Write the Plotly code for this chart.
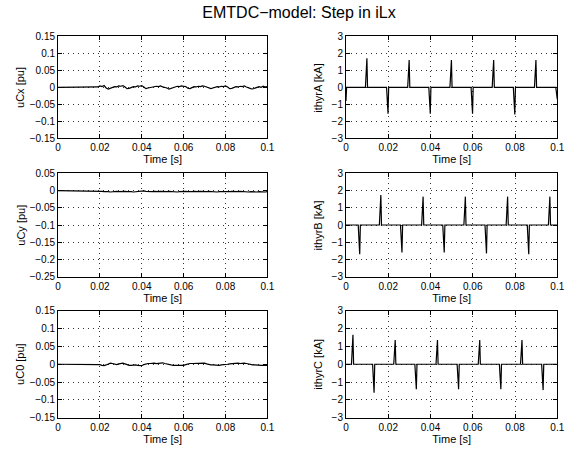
import plotly.graph_objects as go
from plotly.subplots import make_subplots

# ---------------- data ----------------
TIME_U = [0.000, 0.018, 0.019, 0.020, 0.021, 0.022, 0.023, 0.024, 0.025, 0.026, 0.027,
          0.028, 0.029, 0.030, 0.031, 0.032, 0.033, 0.034, 0.035, 0.036, 0.037, 0.038,
          0.039, 0.040, 0.041, 0.042, 0.043, 0.044, 0.045, 0.046, 0.047, 0.048, 0.049,
          0.050, 0.051, 0.052, 0.053, 0.054, 0.055, 0.056, 0.057, 0.058, 0.059, 0.060,
          0.061, 0.062, 0.063, 0.064, 0.065, 0.066, 0.067, 0.068, 0.069, 0.070, 0.071,
          0.072, 0.073, 0.074, 0.075, 0.076, 0.077, 0.078, 0.079, 0.080, 0.081, 0.082,
          0.083, 0.084, 0.085, 0.086, 0.087, 0.088, 0.089, 0.090, 0.091, 0.092, 0.093,
          0.094, 0.095, 0.096, 0.097, 0.098, 0.099, 0.100]

UCX = [0.000, 0.000, 0.001, 0.004, 0.002, 0.005, -0.002, -0.005, -0.003, 0.000, 0.002,
       0.001, 0.004, 0.003, 0.005, 0.001, -0.004, -0.003, -0.001, 0.002, 0.001, 0.004,
       0.003, 0.005, 0.001, -0.004, -0.002, -0.001, 0.002, 0.001, 0.003, 0.002, 0.004,
       0.001, 0.000, -0.002, -0.005, -0.003, 0.001, 0.002, 0.003, 0.002, 0.004, 0.003,
       0.002, -0.003, -0.004, -0.001, 0.002, 0.001, 0.003, 0.002, 0.004, 0.003, 0.001,
       -0.003, -0.004, -0.002, 0.001, 0.002, 0.001, 0.003, 0.002, 0.004, 0.001, -0.004,
       -0.003, 0.000, 0.002, 0.001, 0.003, 0.002, 0.004, 0.001, -0.002, -0.004, -0.005,
       -0.002, 0.001, 0.002, 0.000, 0.003, 0.001, 0.002]

UCY = [0.000, 0.000, 0.000, -0.001, -0.002, -0.003, -0.002, -0.003, -0.004, -0.003, -0.002,
       -0.002, -0.003, -0.002, -0.001, -0.002, -0.003, -0.002, -0.003, -0.004, -0.003, -0.002,
       -0.003, -0.002, -0.001, -0.002, -0.003, -0.004, -0.003, -0.002, -0.003, -0.003, -0.002,
       -0.003, -0.004, -0.003, -0.002, -0.003, -0.002, -0.003, -0.004, -0.003, -0.002, -0.003,
       -0.002, -0.003, -0.004, -0.003, -0.002, -0.003, -0.003, -0.002, -0.003, -0.004, -0.003,
       -0.002, -0.003, -0.002, -0.003, -0.004, -0.003, -0.002, -0.003, -0.003, -0.004, -0.003,
       -0.002, -0.003, -0.004, -0.003, -0.002, -0.003, -0.004, -0.005, -0.004, -0.003, -0.004,
       -0.005, -0.004, -0.003, -0.004, -0.003, -0.004, -0.003]

UC0 = [0.000, 0.000, 0.000, -0.001, -0.003, -0.004, -0.002, 0.001, 0.003, 0.002, 0.000,
       -0.001, 0.001, 0.002, 0.003, 0.001, -0.002, -0.003, -0.003, -0.002, -0.002, -0.003,
       -0.004, -0.004, -0.001, 0.001, 0.002, 0.002, 0.003, 0.003, 0.002, 0.003, 0.004,
       0.004, 0.002, 0.000, -0.002, -0.002, -0.003, -0.003, -0.003, -0.004, -0.004, -0.003,
       -0.001, 0.001, 0.002, 0.002, 0.002, 0.002, 0.003, 0.004, 0.004, 0.003, 0.001,
       -0.001, -0.002, -0.002, -0.003, -0.003, -0.003, -0.002, -0.002, -0.002, 0.000, 0.001,
       0.002, 0.002, 0.003, 0.003, 0.002, 0.003, 0.003, 0.002, 0.000, -0.001, -0.002,
       -0.002, -0.003, -0.003, -0.003, -0.003, -0.003, -0.003]

IA_T = [0.0, 0.0003,
        0.0092, 0.0099, 0.0102, 0.0192, 0.0199, 0.0202,
        0.0292, 0.0299, 0.0302, 0.0392, 0.0399, 0.0402,
        0.0492, 0.0499, 0.0502, 0.0592, 0.0599, 0.0602,
        0.0692, 0.0699, 0.0702, 0.0792, 0.0799, 0.0802,
        0.0892, 0.0899, 0.0902, 0.0993, 0.1]
IA_V = [-0.8, 0.0,
        0.0, 1.7, 0.0, 0.0, -1.55, 0.0,
        0.0, 1.6, 0.0, 0.0, -1.55, 0.0,
        0.0, 1.6, 0.0, 0.0, -1.55, 0.0,
        0.0, 1.6, 0.0, 0.0, -1.6, 0.0,
        0.0, 1.6, 0.0, 0.0, -0.7]

IB_T = [0.0, 0.0058, 0.0065, 0.0068, 0.0158, 0.0165, 0.0168,
        0.0258, 0.0265, 0.0268, 0.0358, 0.0365, 0.0368,
        0.0458, 0.0465, 0.0468, 0.0558, 0.0565, 0.0568,
        0.0658, 0.0665, 0.0668, 0.0758, 0.0765, 0.0768,
        0.0858, 0.0865, 0.0868, 0.0958, 0.0965, 0.0968, 0.1]
IB_V = [0.0, 0.0, -1.7, 0.0, 0.0, 1.75, 0.0,
        0.0, -1.6, 0.0, 0.0, 1.65, 0.0,
        0.0, -1.6, 0.0, 0.0, 1.65, 0.0,
        0.0, -1.65, 0.0, 0.0, 1.65, 0.0,
        0.0, -1.7, 0.0, 0.0, 1.65, 0.0, 0.0]

IC_T = [0.0, 0.0026, 0.0033, 0.0036, 0.0126, 0.0133, 0.0136,
        0.0226, 0.0233, 0.0236, 0.0326, 0.0333, 0.0336,
        0.0426, 0.0433, 0.0436, 0.0526, 0.0533, 0.0536,
        0.0626, 0.0633, 0.0636, 0.0726, 0.0733, 0.0736,
        0.0826, 0.0833, 0.0836, 0.0926, 0.0933, 0.0936, 0.1]
IC_V = [0.0, 0.0, 1.65, 0.0, 0.0, -1.6, 0.0,
        0.0, 1.35, 0.0, 0.0, -1.4, 0.0,
        0.0, 1.35, 0.0, 0.0, -1.4, 0.0,
        0.0, 1.35, 0.0, 0.0, -1.4, 0.0,
        0.0, 1.35, 0.0, 0.0, -1.45, 0.0, 0.0]

X_TICKS = [0, 0.02, 0.04, 0.06, 0.08, 0.1]
X_TICKTEXT = ["0", "0.02", "0.04", "0.06", "0.08", "0.1"]
Y_TICKS_X0 = [-0.15, -0.1, -0.05, 0, 0.05, 0.1, 0.15]
Y_TICKTEXT_X0 = ["\u22120.15", "\u22120.1", "\u22120.05", "0", "0.05", "0.1", "0.15"]
Y_TICKS_Y = [-0.25, -0.2, -0.15, -0.1, -0.05, 0, 0.05]
Y_TICKTEXT_Y = ["\u22120.25", "\u22120.2", "\u22120.15", "\u22120.1", "\u22120.05", "0", "0.05"]
Y_TICKS_I = [-3, -2, -1, 0, 1, 2, 3]
Y_TICKTEXT_I = ["\u22123", "\u22122", "\u22121", "0", "1", "2", "3"]

TITLE = "EMTDC\u2212model: Step in iLx"

panels = [
    (1, 1, TIME_U, UCX, "uCx [pu]", [-0.15, 0.15], Y_TICKS_X0, Y_TICKTEXT_X0),
    (1, 2, IA_T, IA_V, "ithyrA [kA]", [-3, 3], Y_TICKS_I, Y_TICKTEXT_I),
    (2, 1, TIME_U, UCY, "uCy [pu]", [-0.25, 0.05], Y_TICKS_Y, Y_TICKTEXT_Y),
    (2, 2, IB_T, IB_V, "ithyrB [kA]", [-3, 3], Y_TICKS_I, Y_TICKTEXT_I),
    (3, 1, TIME_U, UC0, "uC0 [pu]", [-0.15, 0.15], Y_TICKS_X0, Y_TICKTEXT_X0),
    (3, 2, IC_T, IC_V, "ithyrC [kA]", [-3, 3], Y_TICKS_I, Y_TICKTEXT_I),
]

# ---------------- figure ----------------
W, H = 580, 452
fig = make_subplots(rows=3, cols=2)

col_px = {1: (56, 269), 2: (349, 564)}
row_px = {1: (31, 136), 2: (172, 278), 3: (313, 423)}
ytitle_x = {1: 18, 2: 321}

FONT = "Liberation Sans, Arial, sans-serif"

for r, c, t, v, ylab, yr, yt, ytt in panels:
    fig.add_trace(go.Scatter(x=t, y=v, mode="lines",
                             line=dict(color="black", width=1.2),
                             showlegend=False, hoverinfo="skip"), row=r, col=c)
    x0, x1 = col_px[c]
    y0, y1 = row_px[r]
    common = dict(showline=True, linecolor="black", linewidth=1, mirror="ticks",
                  ticks="inside", ticklen=4, tickcolor="black", tickwidth=1,
                  showgrid=True, gridcolor="#333333", griddash="1px,4px", gridwidth=1,
                  zeroline=False, tickfont=dict(family=FONT, size=10, color="black"))
    fig.update_xaxes(domain=[x0 / W, x1 / W], range=[0, 0.1],
                     tickvals=X_TICKS, ticktext=X_TICKTEXT,
                     title=dict(text="Time [s]", font=dict(family=FONT, size=11, color="black"),
                                standoff=2),
                     row=r, col=c, **common)
    fig.update_yaxes(domain=[1 - y1 / H, 1 - y0 / H], range=yr,
                     tickvals=yt, ticktext=ytt,
                     row=r, col=c, **common)
    fig.add_annotation(text=ylab, xref="paper", yref="paper",
                       x=ytitle_x[c] / W, y=1 - (y0 + y1) / 2 / H,
                       xanchor="center", yanchor="middle", textangle=-90,
                       showarrow=False, font=dict(family=FONT, size=11, color="black"))

fig.update_layout(
    width=W, height=H,
    margin=dict(l=0, r=0, t=0, b=0),
    paper_bgcolor="white", plot_bgcolor="white",
    title=dict(text=TITLE, x=299 / W, xanchor="center", y=1 - 12 / H, yanchor="middle",
               font=dict(family=FONT, size=16, color="black")),
    font=dict(family=FONT, color="black"),
)

fig.write_html("out.html")
